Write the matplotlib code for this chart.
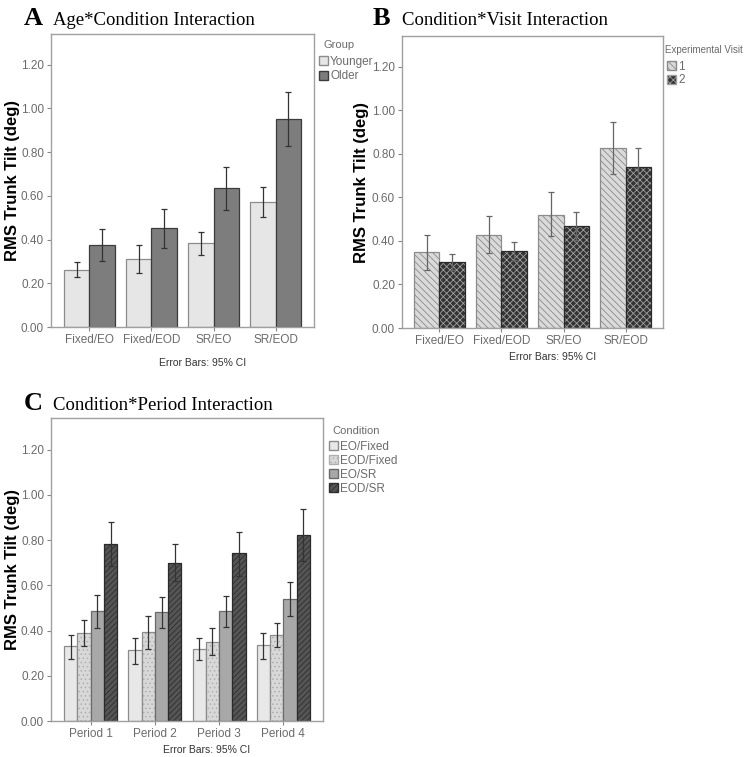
import matplotlib

matplotlib.use("Agg")
import matplotlib.pyplot as plt  # noqa: E402
from matplotlib.patches import Patch  # noqa: E402
import numpy as np  # noqa: E402

W, H = 744, 757

# ---- data ----
conditions = ["Fixed/EO", "Fixed/EOD", "SR/EO", "SR/EOD"]

young_mean = [0.262, 0.309, 0.382, 0.573]
young_lo = [0.227, 0.245, 0.328, 0.502]
young_hi = [0.297, 0.373, 0.435, 0.640]
older_mean = [0.376, 0.452, 0.636, 0.952]
older_lo = [0.302, 0.363, 0.537, 0.829]
older_hi = [0.450, 0.538, 0.733, 1.077]

visit1_mean = [0.347, 0.428, 0.520, 0.827]
visit1_lo = [0.266, 0.343, 0.421, 0.709]
visit1_hi = [0.428, 0.513, 0.622, 0.946]
visit2_mean = [0.302, 0.354, 0.468, 0.737]
visit2_lo = [0.266, 0.313, 0.402, 0.646]
visit2_hi = [0.338, 0.395, 0.532, 0.828]

periods = ["Period 1", "Period 2", "Period 3", "Period 4"]
eo_fixed_mean = [0.331, 0.312, 0.319, 0.334]
eo_fixed_lo = [0.276, 0.254, 0.271, 0.276]
eo_fixed_hi = [0.382, 0.368, 0.368, 0.390]
eod_fixed_mean = [0.390, 0.393, 0.351, 0.382]
eod_fixed_lo = [0.332, 0.318, 0.293, 0.329]
eod_fixed_hi = [0.447, 0.465, 0.410, 0.434]
eo_sr_mean = [0.485, 0.482, 0.485, 0.540]
eo_sr_lo = [0.410, 0.412, 0.415, 0.463]
eo_sr_hi = [0.556, 0.549, 0.554, 0.616]
eod_sr_mean = [0.784, 0.700, 0.741, 0.824]
eod_sr_lo = [0.687, 0.618, 0.643, 0.709]
eod_sr_hi = [0.878, 0.782, 0.838, 0.938]

yticks = [0.0, 0.2, 0.4, 0.6, 0.8, 1.0, 1.2]

SANS = "Liberation Sans"
SERIF = "Liberation Serif"
TICK_C = "#6b6b6b"
plt.rcParams["hatch.linewidth"] = 0.6


def px_axes(left, top, right, bottom):
    return [left / W, 1 - bottom / H, (right - left) / W, (bottom - top) / H]


def fpos(x, y):
    return x / W, 1 - y / H


def style_axes(ax, labels, xlim, label_x):
    ax.set_ylim(0, 1.34)
    ax.set_xlim(*xlim)
    ax.set_yticks(yticks)
    ax.set_yticklabels([f"{v:.2f}" for v in yticks])
    ax.set_xticks(np.arange(len(labels)))
    ax.set_xticklabels(labels)
    ax.tick_params(axis="both", colors="#888888", labelcolor=TICK_C,
                   labelsize=8.5, length=3, width=0.8, pad=2)
    for lab in ax.get_xticklabels() + ax.get_yticklabels():
        lab.set_fontfamily(SANS)
    for s in ax.spines.values():
        s.set_color("#a0a0a0")
        s.set_linewidth(1.0)
    ax.set_ylabel("RMS Trunk Tilt (deg)", fontsize=12, fontweight="bold",
                  family=SANS)
    ax.yaxis.set_label_coords(label_x, 0.5)


def draw_bars(ax, x, mean, lo, hi, width, face, edge, hatch=None,
              hatch_c=None, err_c="#333333"):
    mean = np.asarray(mean)
    if hatch:
        ax.bar(x, mean, width, color=face, edgecolor=hatch_c, hatch=hatch,
               linewidth=0)
        ax.bar(x, mean, width, fill=False, edgecolor=edge, linewidth=0.9)
    else:
        ax.bar(x, mean, width, color=face, edgecolor=edge, linewidth=0.9)
    yerr = [mean - np.asarray(lo), np.asarray(hi) - mean]
    ax.errorbar(x, mean, yerr=yerr, fmt="none", ecolor=err_c,
                elinewidth=0.9, capsize=2.5, capthick=0.9)


def panel_title(letter, text, x, y):
    fig.text(*fpos(x, y), letter, fontsize=19, fontweight="bold",
             family=SERIF, va="baseline")
    fig.text(*fpos(x + 29, y), text, fontsize=13.5, family=SERIF,
             va="baseline")


def add_legend(ax, handles, labels, title, title_xy, title_ha, anchor,
               spacing, title_size=8):
    tx = fig.text(*fpos(*title_xy), title, fontsize=title_size, family=SANS,
                  color=TICK_C, ha=title_ha, va="center")
    leg = ax.legend(handles, labels, loc="upper left",
                    bbox_to_anchor=fpos(*anchor),
                    bbox_transform=fig.transFigure, frameon=False,
                    fontsize=8.5, handlelength=0.8, handleheight=0.8,
                    handletextpad=0.15, labelspacing=spacing,
                    borderaxespad=0, borderpad=0)
    for t in leg.get_texts():
        t.set_color(TICK_C)
        t.set_fontfamily(SANS)
    return tx


fig = plt.figure(figsize=(W / 100, H / 100), dpi=100)
x = np.arange(4)

# ---- A ----
axA = fig.add_axes(px_axes(51, 34, 314, 327))
bw = 0.41
draw_bars(axA, x - bw / 2, young_mean, young_lo, young_hi, bw,
          "#e6e6e6", "#8c8c8c")
draw_bars(axA, x + bw / 2, older_mean, older_lo, older_hi, bw,
          "#7d7d7d", "#3c3c3c")
style_axes(axA, conditions, (-0.62, 3.62), (20 - 51) / 263)
add_legend(axA,
           [Patch(facecolor="#e6e6e6", edgecolor="#8c8c8c"),
            Patch(facecolor="#7d7d7d", edgecolor="#3c3c3c")],
           ["Younger", "Older"], "Group", (339, 45), "center",
           (319, 56), 0.2)
panel_title("A", "Age*Condition Interaction", 24, 25)
fig.text(*fpos(182.5 + 20, 363), "Error Bars: 95% CI", fontsize=7.5,
         family=SANS, ha="center", va="center", color="#333333")

# ---- B ----
axB = fig.add_axes(px_axes(402, 36, 663, 328))
draw_bars(axB, x - bw / 2, visit1_mean, visit1_lo, visit1_hi, bw,
          "#dadada", "#8c8c8c", hatch="\\\\\\\\\\", hatch_c="#8a8a8a",
          err_c="#666666")
draw_bars(axB, x + bw / 2, visit2_mean, visit2_lo, visit2_hi, bw,
          "#333333", "#2a2a2a", hatch="xxxxx", hatch_c="#a0a0a0",
          err_c="#666666")
style_axes(axB, conditions, (-0.6, 3.6), (369 - 402) / 261)
add_legend(axB,
           [Patch(facecolor="#dadada", edgecolor="#8a8a8a", hatch="\\\\\\\\\\"),
            Patch(facecolor="#333333", edgecolor="#a0a0a0", hatch="xxxxx")],
           ["1", "2"], "Experimental Visit", (665, 50), "left",
           (667, 61), 0.1, title_size=7)
panel_title("B", "Condition*Visit Interaction", 373, 25)
fig.text(*fpos(532.5 + 20, 357), "Error Bars: 95% CI", fontsize=7.5,
         family=SANS, ha="center", va="center", color="#333333")

# ---- C ----
axC = fig.add_axes(px_axes(51, 418, 323, 721))
cw = 0.207
offs = np.array([-1.5, -0.5, 0.5, 1.5]) * cw
series = [
    (eo_fixed_mean, eo_fixed_lo, eo_fixed_hi, "#e8e8e8", "#8c8c8c", None, None),
    (eod_fixed_mean, eod_fixed_lo, eod_fixed_hi, "#d8d8d8", "#8c8c8c", "....", "#b0b0b0"),
    (eo_sr_mean, eo_sr_lo, eo_sr_hi, "#a8a8a8", "#6a6a6a", None, None),
    (eod_sr_mean, eod_sr_lo, eod_sr_hi, "#555555", "#2a2a2a", "//////", "#2e2e2e"),
]
for off, (m, lo, hi, fc, ec, ht, hc) in zip(offs, series):
    draw_bars(axC, x + off, m, lo, hi, cw, fc, ec, hatch=ht, hatch_c=hc)
style_axes(axC, periods, (-0.62, 3.62), (20 - 51) / 272)
cond_labels = ["EO/Fixed", "EOD/Fixed", "EO/SR", "EOD/SR"]
handles = []
for m, lo, hi, fc, ec, ht, hc in series:
    if ht:
        handles.append(Patch(facecolor=fc, edgecolor=hc, hatch=ht))
    else:
        handles.append(Patch(facecolor=fc, edgecolor=ec))
add_legend(axC, handles, cond_labels, "Condition", (356, 431), "center",
           (329, 441), 0.17)
panel_title("C", "Condition*Period Interaction", 24, 410)
fig.text(*fpos(187 + 20, 750), "Error Bars: 95% CI", fontsize=7.5,
         family=SANS, ha="center", va="center", color="#333333")

fig.savefig("out.png", dpi=100)
